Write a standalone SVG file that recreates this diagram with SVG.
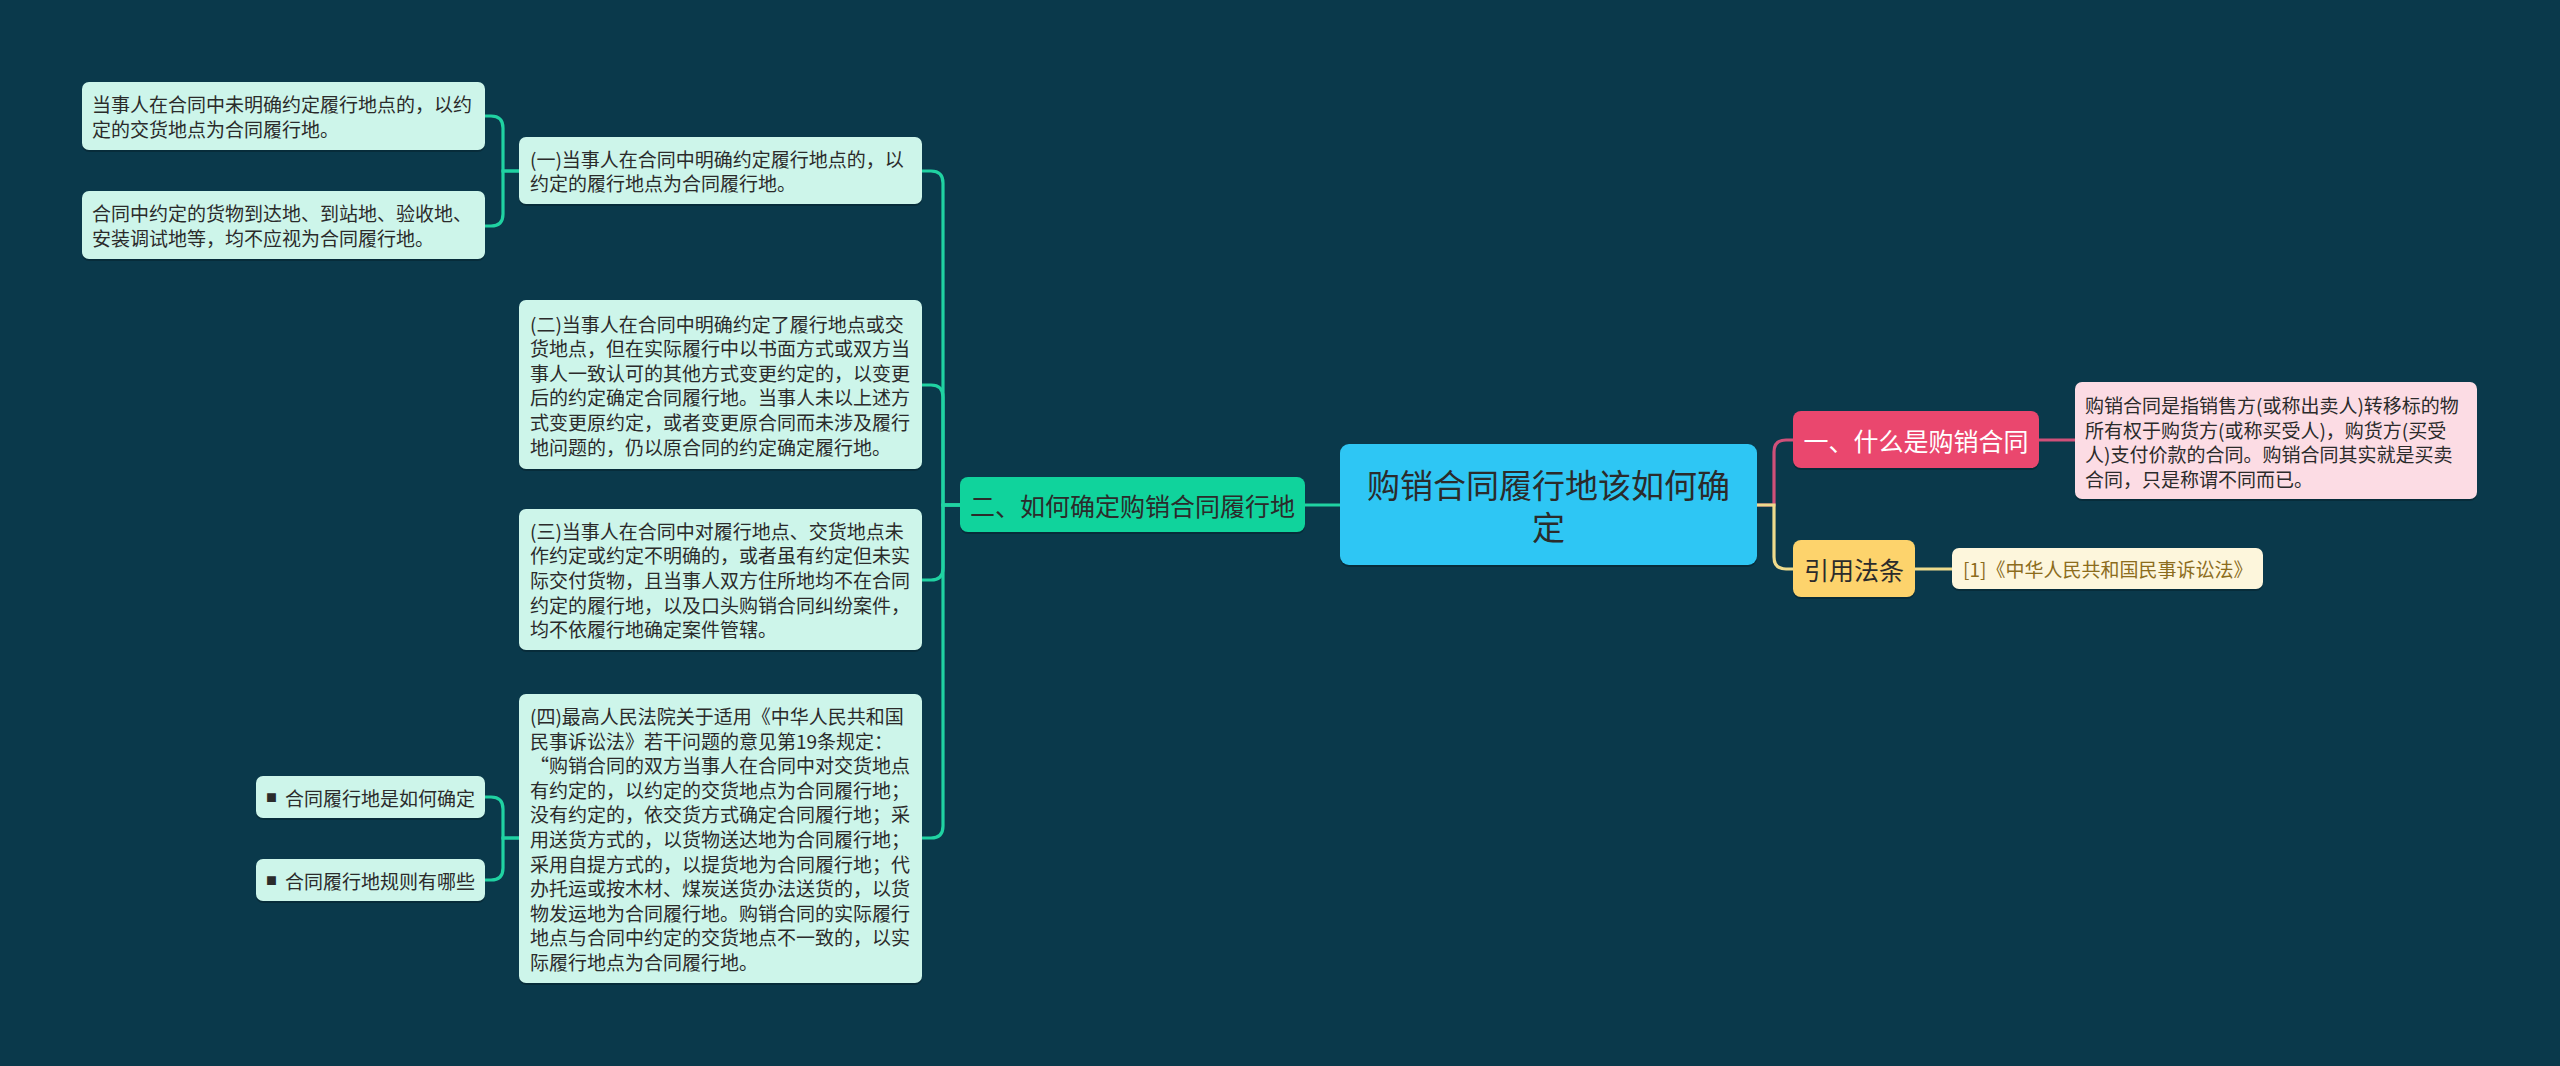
<svg xmlns="http://www.w3.org/2000/svg" width="2560" height="1066" viewBox="0 0 2560 1066">
<style>
.t{font-family:"Noto Sans CJK SC","Noto Sans",sans-serif;fill:#2b2b2b;dominant-baseline:central}
.s19{font-size:19px}
.s25{font-size:25px}
.s33{font-size:33px}
.mid{text-anchor:middle}
.mint{fill:#cdf5ea}
.sh{fill:#000;opacity:0.22}
.lg{fill:none;stroke:#20d2a2;stroke-width:3.2}
.lp{fill:none;stroke:#cf5079;stroke-width:3.2}
.ly{fill:none;stroke:#eedb8c;stroke-width:3.2}
</style>
<rect width="2560" height="1066" fill="#0a394b"/>
<g id="connectors">
<path class="lg" d="M1340 505 H1305"/>
<path class="lg" d="M960 505 H943 V183 Q943 171 931 171 H922"/>
<path class="lg" d="M960 505 H943 V397 Q943 385 931 385 H922"/>
<path class="lg" d="M960 505 H943 V568 Q943 580 931 580 H922"/>
<path class="lg" d="M960 505 H943 V826 Q943 838 931 838 H922"/>
<path class="lg" d="M519 171 H503 V128 Q503 116 491 116 H485"/>
<path class="lg" d="M519 171 H503 V214 Q503 226 491 226 H485"/>
<path class="lg" d="M519 838 H503 V809 Q503 797 491 797 H485"/>
<path class="lg" d="M519 838 H503 V868 Q503 880 491 880 H485"/>
<path class="lp" d="M1757 505 H1774 V452 Q1774 440 1786 440 H1793"/>
<path class="ly" d="M1757 505 H1774 V557 Q1774 569 1786 569 H1793"/>
<path class="lp" d="M2039 440 H2075"/>
<path class="ly" d="M1915 569 H1953"/>
</g>
<g id="root">
<rect class="sh" x="1340" y="446" width="417" height="121" rx="9"/>
<rect x="1340" y="444" width="417" height="121" rx="9" fill="#2ec6f4"/>
<text class="t s33 mid" x="1548.5" y="484">购销合同履行地该如何确<tspan x="1548.5" dy="42">定</tspan></text>
</g>
<g id="n2">
<rect class="sh" x="960" y="479" width="345" height="55" rx="8"/>
<rect x="960" y="477" width="345" height="55" rx="8" fill="#10d39c"/>
<text class="t s25 mid" x="1132.5" y="504.5">二、如何确定购销合同履行地</text>
</g>
<g id="b1">
<rect class="sh" x="519" y="139" width="403" height="67" rx="7"/>
<rect class="mint" x="519" y="137" width="403" height="67" rx="7"/>
<text class="t s19" x="530" y="158.2">(一)当事人在合同中明确约定履行地点的，以</text>
<text class="t s19" x="530" y="182.8">约定的履行地点为合同履行地。</text>
</g>
<g id="a1">
<rect class="sh" x="82" y="84" width="403" height="68" rx="7"/>
<rect class="mint" x="82" y="82" width="403" height="68" rx="7"/>
<text class="t s19" x="92" y="103.7">当事人在合同中未明确约定履行地点的，以约</text>
<text class="t s19" x="92" y="128.3">定的交货地点为合同履行地。</text>
</g>
<g id="a2">
<rect class="sh" x="82" y="193" width="403" height="68" rx="7"/>
<rect class="mint" x="82" y="191" width="403" height="68" rx="7"/>
<text class="t s19" x="92" y="212.7">合同中约定的货物到达地、到站地、验收地、</text>
<text class="t s19" x="92" y="237.3">安装调试地等，均不应视为合同履行地。</text>
</g>
<g id="b2">
<rect class="sh" x="519" y="302" width="403" height="169" rx="7"/>
<rect class="mint" x="519" y="300" width="403" height="169" rx="7"/>
<text class="t s19" x="530" y="323">(二)当事人在合同中明确约定了履行地点或交</text>
<text class="t s19" x="530" y="347.6">货地点，但在实际履行中以书面方式或双方当</text>
<text class="t s19" x="530" y="372.2">事人一致认可的其他方式变更约定的，以变更</text>
<text class="t s19" x="530" y="396.8">后的约定确定合同履行地。当事人未以上述方</text>
<text class="t s19" x="530" y="421.4">式变更原约定，或者变更原合同而未涉及履行</text>
<text class="t s19" x="530" y="446">地问题的，仍以原合同的约定确定履行地。</text>
</g>
<g id="b3">
<rect class="sh" x="519" y="511" width="403" height="141" rx="7"/>
<rect class="mint" x="519" y="509" width="403" height="141" rx="7"/>
<text class="t s19" x="530" y="530.3">(三)当事人在合同中对履行地点、交货地点未</text>
<text class="t s19" x="530" y="554.9">作约定或约定不明确的，或者虽有约定但未实</text>
<text class="t s19" x="530" y="579.5">际交付货物，且当事人双方住所地均不在合同</text>
<text class="t s19" x="530" y="604.1">约定的履行地，以及口头购销合同纠纷案件，</text>
<text class="t s19" x="530" y="628.7">均不依履行地确定案件管辖。</text>
</g>
<g id="b4">
<rect class="sh" x="519" y="696" width="403" height="289" rx="7"/>
<rect class="mint" x="519" y="694" width="403" height="289" rx="7"/>
<text class="t s19" x="530" y="715.5">(四)最高人民法院关于适用《中华人民共和国</text>
<text class="t s19" x="530" y="740.1">民事诉讼法》若干问题的意见第19条规定：</text>
<text class="t s19" x="530" y="764.7">“购销合同的双方当事人在合同中对交货地点</text>
<text class="t s19" x="530" y="789.3">有约定的，以约定的交货地点为合同履行地；</text>
<text class="t s19" x="530" y="813.9">没有约定的，依交货方式确定合同履行地；采</text>
<text class="t s19" x="530" y="838.5">用送货方式的，以货物送达地为合同履行地；</text>
<text class="t s19" x="530" y="863.1">采用自提方式的，以提货地为合同履行地；代</text>
<text class="t s19" x="530" y="887.7">办托运或按木材、煤炭送货办法送货的，以货</text>
<text class="t s19" x="530" y="912.3">物发运地为合同履行地。购销合同的实际履行</text>
<text class="t s19" x="530" y="936.9">地点与合同中约定的交货地点不一致的，以实</text>
<text class="t s19" x="530" y="961.5">际履行地点为合同履行地。</text>
</g>
<g id="c1">
<rect class="sh" x="256" y="778" width="229" height="42" rx="7"/>
<rect class="mint" x="256" y="776" width="229" height="42" rx="7"/>
<text class="t s19" x="266" y="797"><tspan font-size="11">■</tspan><tspan x="285">合同履行地是如何确定</tspan></text>
</g>
<g id="c2">
<rect class="sh" x="256" y="861" width="229" height="42" rx="7"/>
<rect class="mint" x="256" y="859" width="229" height="42" rx="7"/>
<text class="t s19" x="266" y="880"><tspan font-size="11">■</tspan><tspan x="285">合同履行地规则有哪些</tspan></text>
</g>
<g id="n1">
<rect class="sh" x="1793" y="413" width="246" height="57" rx="8"/>
<rect x="1793" y="411" width="246" height="57" rx="8" fill="#ea476e"/>
<text class="t s25 mid" x="1916" y="439.5" style="fill:#ffffff">一、什么是购销合同</text>
</g>
<g id="d1">
<rect class="sh" x="2075" y="384" width="402" height="117" rx="7"/>
<rect x="2075" y="382" width="402" height="117" rx="7" fill="#fcdce4"/>
<text class="t s19" x="2085" y="404.6">购销合同是指销售方(或称出卖人)转移标的物</text>
<text class="t s19" x="2085" y="429.2">所有权于购货方(或称买受人)，购货方(买受</text>
<text class="t s19" x="2085" y="453.8">人)支付价款的合同。购销合同其实就是买卖</text>
<text class="t s19" x="2085" y="478.4">合同，只是称谓不同而已。</text>
</g>
<g id="n3">
<rect class="sh" x="1793" y="542" width="122" height="57" rx="8"/>
<rect x="1793" y="540" width="122" height="57" rx="8" fill="#fdd36c"/>
<text class="t s25 mid" x="1854" y="568.5">引用法条</text>
</g>
<g id="d3">
<rect class="sh" x="1952" y="550" width="311" height="41" rx="7"/>
<rect x="1952" y="548" width="311" height="41" rx="7" fill="#fdf6dc"/>
<text class="t s19" x="1963" y="568.5" style="fill:#8c6c1c">[1]《中华人民共和国民事诉讼法》</text>
</g>
</svg>
